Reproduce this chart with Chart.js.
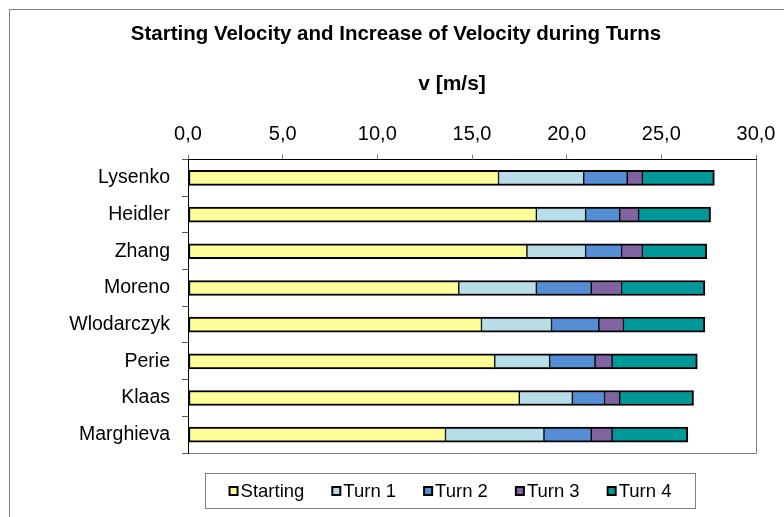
<!DOCTYPE html>
<html>
<head>
<meta charset="utf-8">
<script src="https://cdn.jsdelivr.net/npm/chart.js@4"></script>
<style>
html,body{margin:0;padding:0;background:#fff;}
#wrap{width:784px;height:517px;position:relative;}
</style>
</head>
<body>
<div id="wrap"><canvas id="c" width="784" height="517"></canvas></div>
<script>
const categories = ['Lysenko','Heidler','Zhang','Moreno','Wlodarczyk','Perie','Klaas','Marghieva'];
const seriesNames = ['Starting','Turn 1','Turn 2','Turn 3','Turn 4'];
const starting = [16.4, 18.4, 17.9, 14.3, 15.5, 16.2, 17.5, 13.6];
const turn1    = [4.5, 2.6, 3.1, 4.1, 3.7, 2.9, 2.8, 5.2];
const turn2    = [2.3, 1.8, 1.9, 2.9, 2.5, 2.4, 1.7, 2.5];
const turn3    = [0.8, 1.0, 1.1, 1.6, 1.3, 0.9, 0.8, 1.1];
const turn4    = [3.8, 3.8, 3.4, 4.4, 4.3, 4.5, 3.9, 4.0];
const xTickValues = [0, 5, 10, 15, 20, 25, 30];
const titleText = 'Starting Velocity and Increase of Velocity during Turns';
const axisTitle = 'v [m/s]';

const colors = ['#FFFF99', '#B7DEE8', '#558ED5', '#8064A2', '#009999'];
const values = [starting, turn1, turn2, turn3, turn4];
const FONT = "'Liberation Sans', Arial, sans-serif";

const datasets = values.map((v, i) => ({
  label: seriesNames[i],
  data: v,
  backgroundColor: colors[i],
  borderColor: '#000',
  borderWidth: {top: 2, bottom: 2, left: i === 0 ? 2 : 1, right: i === values.length - 1 ? 2 : 1},
  borderSkipped: false,
  barThickness: 15
}));

const framePlugin = {
  id: 'frame',
  beforeDraw(chart) {
    const ctx = chart.ctx;
    ctx.save();
    ctx.fillStyle = '#fff';
    ctx.fillRect(0, 0, chart.width, chart.height);
    ctx.strokeStyle = '#808080';
    ctx.lineWidth = 1;
    ctx.beginPath();
    ctx.moveTo(9.5, chart.height);
    ctx.lineTo(9.5, 9.5);
    ctx.lineTo(chart.width, 9.5);
    ctx.stroke();
    const a = chart.chartArea;
    ctx.beginPath();
    ctx.moveTo(Math.round(a.right) + 0.5, a.top);
    ctx.lineTo(Math.round(a.right) + 0.5, Math.round(a.bottom) + 0.5);
    ctx.lineTo(a.left, Math.round(a.bottom) + 0.5);
    ctx.stroke();
    ctx.restore();
  }
};

const textPlugin = {
  id: 'axisTitleAndLegend',
  afterDraw(chart) {
    const ctx = chart.ctx;
    ctx.save();
    // axis title
    ctx.fillStyle = '#000';
    ctx.font = 'bold 21px ' + FONT;
    ctx.textAlign = 'center';
    ctx.textBaseline = 'middle';
    ctx.fillText(axisTitle, 452, 84);
    // legend box
    const boxL = 205, boxR = 695, boxT = 473, boxB = 508;
    ctx.strokeStyle = '#808080';
    ctx.lineWidth = 1;
    ctx.strokeRect(boxL + 0.5, boxT + 0.5, boxR - boxL, boxB - boxT);
    ctx.font = '18.5px ' + FONT;
    ctx.textAlign = 'left';
    const sq = 10, gapText = 2, gapItem = 27;
    const ds = chart.data.datasets;
    const widths = ds.map(d => sq + gapText + ctx.measureText(d.label).width);
    const total = widths.reduce((a, b) => a + b, 0) + gapItem * (ds.length - 1);
    let x = (boxL + boxR) / 2 - total / 2;
    const cy = (boxT + boxB) / 2 + 0.5;
    ds.forEach((d, i) => {
      ctx.fillStyle = '#000';
      ctx.fillRect(x, cy - sq / 2, sq, sq);
      ctx.fillStyle = d.backgroundColor;
      ctx.fillRect(x + 2, cy - sq / 2 + 2, sq - 4, sq - 4);
      ctx.fillStyle = '#000';
      ctx.fillText(d.label, x + sq + gapText, cy + 1);
      x += widths[i] + gapItem;
    });
    ctx.restore();
  }
};

new Chart(document.getElementById('c'), {
  type: 'bar',
  data: { labels: categories, datasets },
  options: {
    indexAxis: 'y',
    responsive: false,
    animation: false,
    layout: { padding: { left: 8, right: 0, top: 0, bottom: 64 } },
    plugins: {
      legend: { display: false },
      tooltip: { enabled: false },
      title: {
        display: true,
        text: titleText,
        color: '#000',
        font: { family: FONT, size: 20.5, weight: 'bold' },
        padding: { top: 22, bottom: 0 }
      }
    },
    scales: {
      x: {
        position: 'top',
        stacked: true,
        min: 0,
        max: 30,
        afterBuildTicks(s) { s.ticks = xTickValues.map(v => ({ value: v })); },
        afterFit(s) { s.height = 113; },
        ticks: {
          color: '#000',
          font: { family: FONT, size: 20 },
          padding: 8,
          callback: v => Number(v).toFixed(1).replace('.', ',')
        },
        grid: { drawOnChartArea: false, drawTicks: true, tickLength: 5, color: '#808080' },
        border: { color: '#000', width: 1 },
        title: { display: false }
      },
      y: {
        stacked: true,
        afterFit(s) { s.width = 180; },
        ticks: { color: '#000', font: { family: FONT, size: 19.5 }, padding: 12 },
        grid: { drawOnChartArea: false, drawTicks: true, tickLength: 6, color: '#555', offset: true },
        border: { color: '#000', width: 1 }
      },
      yRight: {
        type: 'category',
        position: 'right',
        display: true,
        afterFit(s) { s.width = 28; },
        ticks: { display: false },
        grid: { display: false, drawTicks: false },
        border: { display: false }
      }
    }
  },
  plugins: [framePlugin, textPlugin]
});
</script>
</body>
</html>
